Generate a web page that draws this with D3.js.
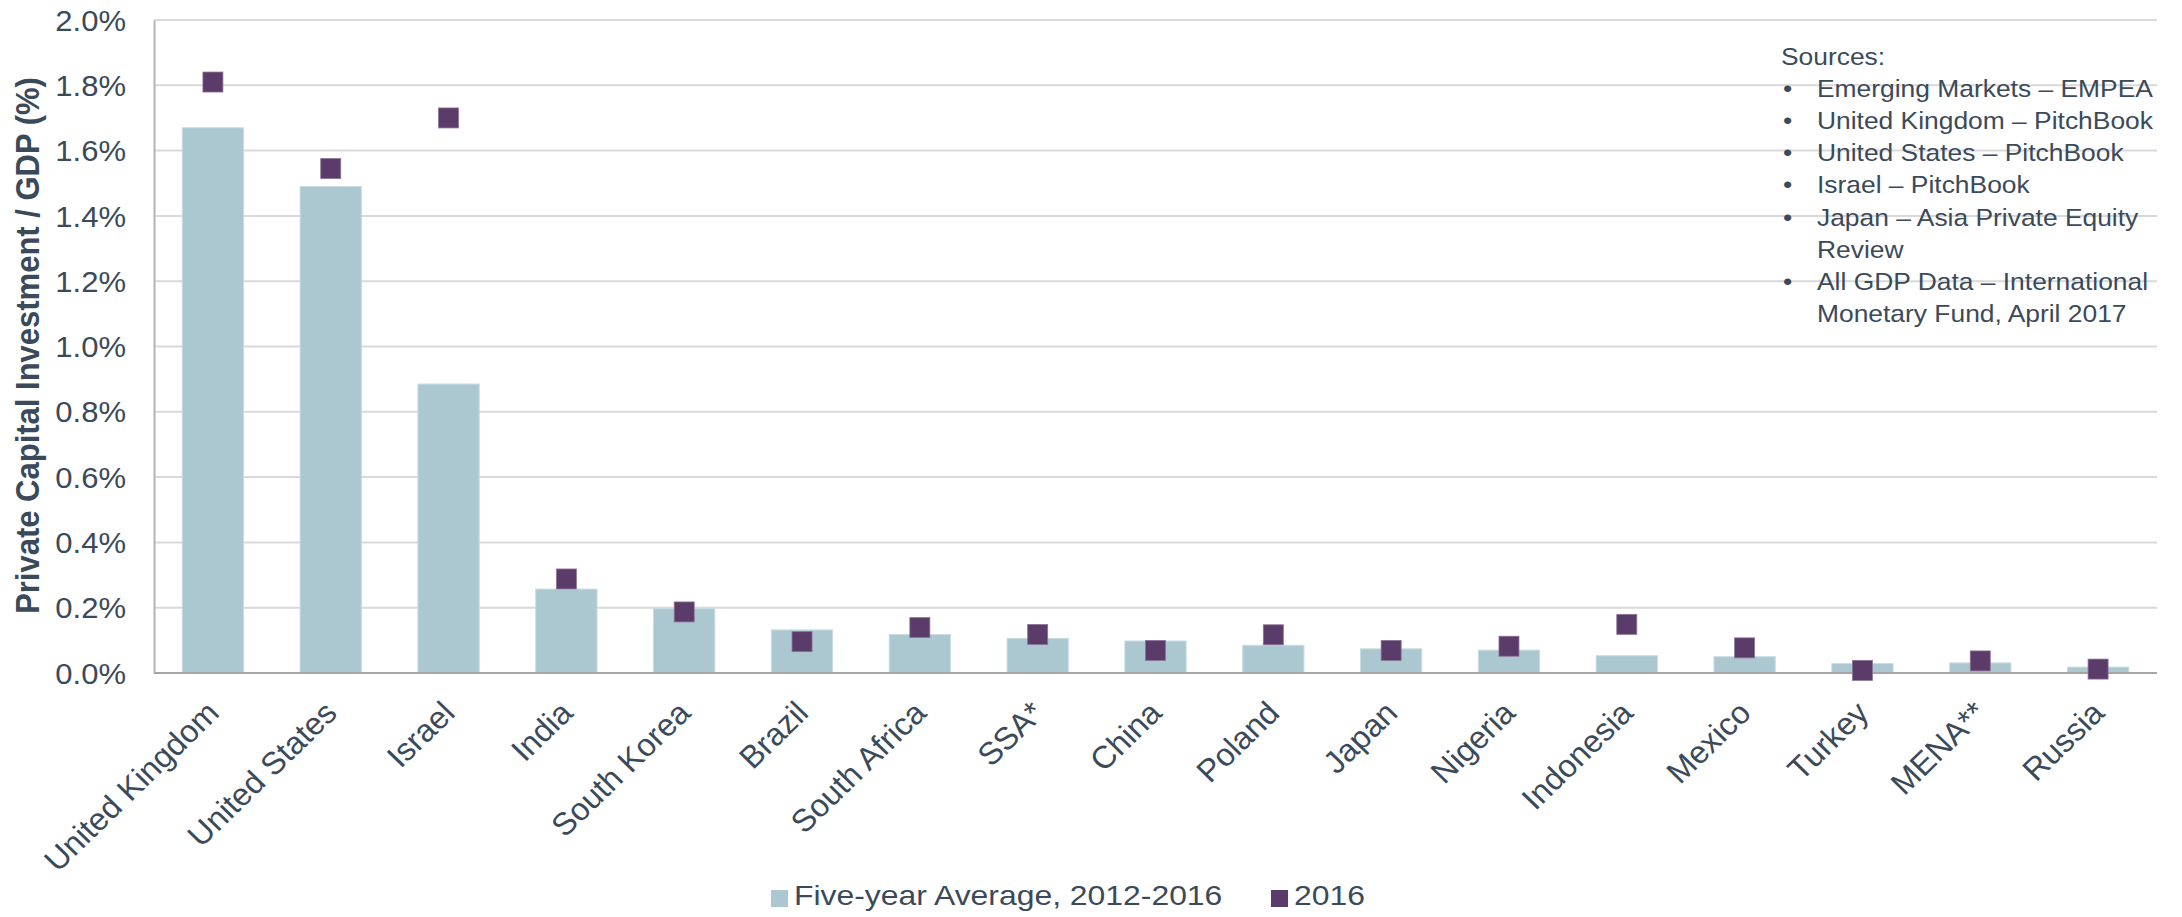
<!DOCTYPE html>
<html>
<head>
<meta charset="utf-8">
<script src="https://cdn.jsdelivr.net/npm/d3@7"></script>
<style>
  html, body { margin: 0; padding: 0; background: #ffffff; }
  svg { display: block; font-family: Arial, "Liberation Sans", sans-serif; }
</style>
</head>
<body>
<svg id="chart" width="2182" height="917"></svg>
<script>
// ── DATA ──────────────────────────────────────────────────────────────────────

const countries = ['United Kingdom', 'United States', 'Israel', 'India', 'South Korea', 'Brazil',
  'South Africa', 'SSA*', 'China', 'Poland', 'Japan', 'Nigeria', 'Indonesia', 'Mexico',
  'Turkey', 'MENA**', 'Russia'];

// private capital investment / GDP, in percent
const fiveYearAvg = [1.67, 1.49, 0.885, 0.257, 0.197, 0.132, 0.118, 0.106, 0.098, 0.085,
  0.074, 0.070, 0.053, 0.050, 0.029, 0.031, 0.018];
const value2016 = [1.81, 1.545, 1.70, 0.288, 0.187, 0.096, 0.139, 0.118, 0.069, 0.117,
  0.069, 0.082, 0.149, 0.077, 0.008, 0.037, 0.012];

const yTicks = [0, 0.2, 0.4, 0.6, 0.8, 1.0, 1.2, 1.4, 1.6, 1.8, 2.0];

const seriesNames = ['Five-year Average, 2012-2016', '2016'];

const sources = [
  ['Emerging Markets – EMPEA'],
  ['United Kingdom – PitchBook'],
  ['United States – PitchBook'],
  ['Israel – PitchBook'],
  ['Japan – Asia Private Equity', 'Review'],
  ['All GDP Data – International', 'Monetary Fund, April 2017']
];

// ── LAYOUT ────────────────────────────────────────────────────────────────────

const TEXT   = '#3b4a5a';
const BAR    = '#abc8d1';
const MARK   = '#5a3b69';
const plot   = { left: 154, right: 2157, top: 20, bottom: 673 };
const SX     = 1.07;   // reference text is slightly wider than tall

const svg = d3.select('#chart');

const x = d3.scaleBand()
  .domain(countries)
  .range([plot.left, plot.right])
  .paddingInner(0.48)
  .paddingOuter(0.24);

const y = d3.scaleLinear()
  .domain([0, 2])
  .range([plot.bottom, plot.top]);

// ── GRID + AXES ───────────────────────────────────────────────────────────────

svg.append('g').attr('class', 'grid')
  .selectAll('line')
  .data(yTicks.filter(d => d > 0))
  .join('line')
  .attr('x1', plot.left).attr('x2', plot.right)
  .attr('y1', d => y(d)).attr('y2', d => y(d))
  .attr('stroke', '#d9d9d9')
  .attr('stroke-width', 2);

const yAxis = svg.append('g')
  .attr('transform', `translate(${plot.left},0)`)
  .call(d3.axisLeft(y).tickValues(yTicks).tickFormat(d => d.toFixed(1) + '%').tickSize(0).tickPadding(0));

yAxis.select('.domain').attr('stroke', '#b3b3b3').attr('stroke-width', 2);
yAxis.selectAll('text')
  .attr('x', null).attr('dy', null)
  .attr('text-anchor', 'end')
  .attr('transform', `translate(-28,0) scale(${SX},1)`)
  .attr('dy', '0.35em')
  .attr('fill', TEXT)
  .attr('font-size', 29)
  .attr('font-family', 'Arial, "Liberation Sans", sans-serif');

// y axis title
svg.append('text')
  .attr('transform', `translate(39,${(plot.top + plot.bottom) / 2 - 1}) scale(${SX},1) rotate(-90)`)
  .attr('text-anchor', 'middle')
  .attr('font-weight', 'bold')
  .attr('font-size', 31)
  .attr('fill', TEXT)
  .text('Private Capital Investment / GDP (%)');

// ── BARS ──────────────────────────────────────────────────────────────────────

svg.append('g').attr('class', 'bars')
  .selectAll('rect')
  .data(countries)
  .join('rect')
  .attr('x', d => x(d))
  .attr('y', (d, i) => y(fiveYearAvg[i]))
  .attr('width', x.bandwidth())
  .attr('height', (d, i) => y(0) - y(fiveYearAvg[i]))
  .attr('fill', BAR)
  .attr('stroke', '#c9dce2')
  .attr('stroke-width', 1);

// baseline over the bars
svg.append('line')
  .attr('x1', plot.left).attr('x2', plot.right)
  .attr('y1', y(0)).attr('y2', y(0))
  .attr('stroke', '#a6a6a6')
  .attr('stroke-width', 2);

// ── 2016 MARKERS ──────────────────────────────────────────────────────────────

const MS = 20;
svg.append('g').attr('class', 'markers')
  .selectAll('rect')
  .data(countries)
  .join('rect')
  .attr('x', d => x(d) + x.bandwidth() / 2 - MS / 2)
  .attr('y', (d, i) => y(value2016[i]) - MS / 2)
  .attr('width', MS)
  .attr('height', MS)
  .attr('fill', MARK)
  .attr('stroke', '#8c7496')
  .attr('stroke-width', 0.8);

// ── CATEGORY LABELS ───────────────────────────────────────────────────────────

svg.append('g').attr('class', 'x-labels')
  .selectAll('text')
  .data(countries)
  .join('text')
  .attr('transform', d => `translate(${x(d) + x.bandwidth() / 2},${plot.bottom + 34}) scale(1.03,1) rotate(-45)`)
  .attr('text-anchor', 'end')
  .attr('dy', '0.35em')
  .attr('font-size', 31.5)
  .attr('fill', TEXT)
  .text(d => d);

// ── LEGEND ────────────────────────────────────────────────────────────────────

const legend = svg.append('g').attr('class', 'legend');
const legendX = [771, 1271];
const legendColors = [BAR, MARK];

seriesNames.forEach((name, i) => {
  legend.append('rect')
    .attr('x', legendX[i]).attr('y', 890)
    .attr('width', 17).attr('height', 17)
    .attr('fill', legendColors[i]);
  legend.append('text')
    .attr('transform', `translate(${legendX[i] + 23},905) scale(1.16,1)`)
    .attr('font-size', 27.5)
    .attr('fill', TEXT)
    .text(name);
});

// ── SOURCES NOTE ──────────────────────────────────────────────────────────────

const note = svg.append('g').attr('class', 'sources');
const lineH = 32.1;
let row = 0;

note.append('text')
  .attr('transform', `translate(1781,65) scale(1.1,1)`)
  .attr('font-size', 24)
  .attr('fill', TEXT)
  .text('Sources:');
row++;

sources.forEach(lines => {
  note.append('text')
    .attr('transform', `translate(1783,${65 + row * lineH}) scale(1.1,1)`)
    .attr('font-size', 24)
    .attr('fill', TEXT)
    .text('•');
  lines.forEach(line => {
    note.append('text')
      .attr('transform', `translate(1817,${65 + row * lineH}) scale(1.1,1)`)
      .attr('font-size', 24)
      .attr('fill', TEXT)
      .text(line);
    row++;
  });
});
</script>
</body>
</html>
